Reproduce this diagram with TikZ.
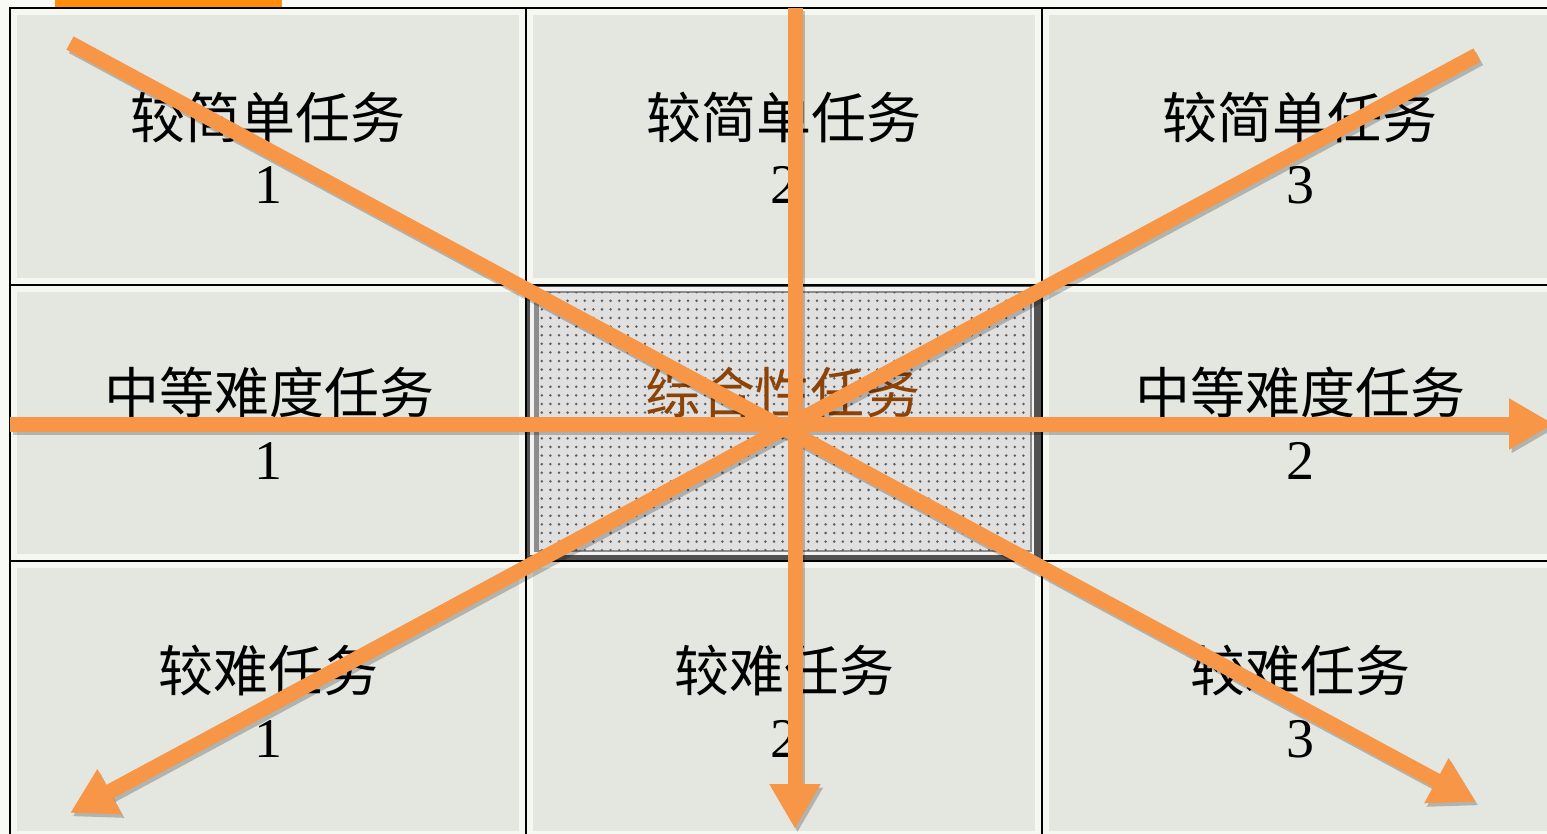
\documentclass[tikz,border=0pt]{standalone}
\usepackage{fontspec}
\setmainfont{Liberation Serif}
\newfontfamily\cjk{Noto Sans CJK SC}
\usetikzlibrary{arrows.meta,patterns.meta}
\definecolor{bg}{HTML}{F8FAF5}
\definecolor{face}{HTML}{E4E7E0}
\definecolor{bevel}{HTML}{F5F7F1}
\definecolor{arr}{HTML}{F79646}
\definecolor{topbar}{HTML}{FF8C0A}
\definecolor{brownish}{HTML}{8E4306}
\definecolor{dotface}{HTML}{E0E0E0}
\definecolor{dotcol}{HTML}{5E5E5E}
\tikzset{
  cjklabel/.style={anchor=base, inner sep=0pt, font=\cjk\fontsize{55}{60}\selectfont, text=black},
  digitlabel/.style={anchor=base, inner sep=0pt, font=\fontsize{56}{60}\selectfont, text=black},
  centerlabel/.style={anchor=base, inner sep=0pt, font=\cjk\fontsize{55}{60}\selectfont, text=brownish},
  gridline/.style={line width=1.6pt, black},
  bigarrow/.style={line width=15pt, arr, -{Triangle[length=45pt,width=48pt]}},
  arrowshadow/.style={line width=15pt, black, opacity=0.22, -{Triangle[length=45pt,width=48pt]}, transform canvas={shift={(2.5pt,-3.5pt)}}}
}
\begin{document}
\begin{tikzpicture}[x=1pt,y=-1pt]
\useasboundingbox (0,0) rectangle (1547,834);
\clip (0,0) rectangle (1547,834);
\fill[bg] (0,0) rectangle (1547,834);
\fill[topbar] (55,0) rectangle (282,7);
% cells
\foreach \xa/\xb in {10/526,526/1042,1042/1558}{
  \foreach \ya/\yb in {8/285,285/561,561/838}{
    \fill[bevel] (\xa,\ya) rectangle (\xb,\yb);
    \fill[face] (\xa+7,\ya+7) rectangle (\xb-7,\yb-7);
  }
}
% centre cell
\fill[black!68] (526,285) rectangle (1042,561);
\fill[white!95!black] (530,287) rectangle (1034,555);
\fill[black!45] (534,291) rectangle (1032,552);
\fill[dotface] (539,293) rectangle (1030,550);
\fill[pattern={Dots[radius=1.4pt,distance=8.6pt]}, pattern color=dotcol] (539,293) rectangle (1030,550);
% grid lines
\draw[gridline] (10,8) rectangle (1558,838);
\draw[gridline] (526,8) -- (526,838);
\draw[gridline] (1042,8) -- (1042,838);
\draw[gridline] (10,285) -- (1558,285);
\draw[gridline] (10,561) -- (1558,561);
% labels
\node[cjklabel] (l11) at (268,139) {较简单任务};
\node[digitlabel] (d11) at (268,204) {1};
\node[cjklabel] (l12) at (784,139) {较简单任务};
\node[digitlabel] (d12) at (784,204) {2};
\node[cjklabel] (l13) at (1300,139) {较简单任务};
\node[digitlabel] (d13) at (1300,204) {3};
\node[cjklabel] (l21) at (269,413) {中等难度任务};
\node[digitlabel] (d21) at (268,479) {1};
\node[centerlabel] (l22) at (783,413) {综合性任务};
\node[cjklabel] (l23) at (1300,413) {中等难度任务};
\node[digitlabel] (d23) at (1300,479) {2};
\node[cjklabel] (l31) at (268,691) {较难任务};
\node[digitlabel] (d31) at (268,757) {1};
\node[cjklabel] (l32) at (784,691) {较难任务};
\node[digitlabel] (d32) at (784,757) {2};
\node[cjklabel] (l33) at (1300,691) {较难任务};
\node[digitlabel] (d33) at (1300,757) {3};
% arrow end points
\coordinate (tl) at (70,43);
\coordinate (br) at (1476,802);
\coordinate (tr) at (1477,55);
\coordinate (bl) at (70,813);
\coordinate (top) at (795,8);
\coordinate (bot) at (795,829);
\coordinate (lft) at (10,424);
\coordinate (rgt) at (1554,424);
% shadows
\draw[arrowshadow] (tl) -- (br);
\draw[arrowshadow] (tr) -- (bl);
\draw[arrowshadow] (lft) -- (rgt);
\draw[arrowshadow] (top) -- (bot);
% arrows
\draw[bigarrow] (tl) -- (br);
\draw[bigarrow] (tr) -- (bl);
\draw[bigarrow] (lft) -- (rgt);
\draw[bigarrow] (top) -- (bot);
\end{tikzpicture}
\end{document}
